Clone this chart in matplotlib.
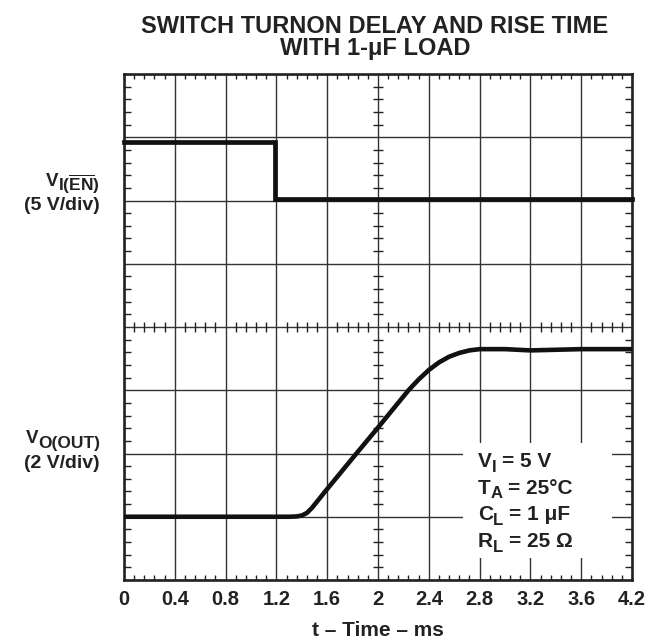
import numpy as np
import matplotlib
matplotlib.use('Agg')
import matplotlib.pyplot as plt
from matplotlib.patches import Rectangle

plt.rcParams['font.family'] = ['Liberation Sans', 'DejaVu Sans']
plt.rcParams['font.weight'] = 'bold'
plt.rcParams['mathtext.fontset'] = 'custom'
for k in ['rm', 'it', 'bf', 'sf']:
    plt.rcParams['mathtext.' + k] = 'Liberation Sans:bold'

# ---- data (time in ms, amplitude in screen divisions) ----
time_ticks = [0, 0.4, 0.8, 1.2, 1.6, 2.0, 2.4, 2.8, 3.2, 3.6, 4.0]
time_tick_labels = ['0', '0.4', '0.8', '1.2', '1.6', '2', '2.4', '2.8', '3.2', '3.6', '4.2']

en_t = [0.0, 1.19, 1.19, 4.0]
en_v = [6.92, 6.92, 6.02, 6.02]

out_t = [0.0, 1.30, 1.36, 1.40, 1.44, 1.48, 1.58, 1.83, 2.00, 2.24, 2.32, 2.40,
         2.48, 2.56, 2.64, 2.72, 2.80, 3.00, 3.20, 3.60, 4.00]
out_v = [1.00, 1.00, 1.005, 1.02, 1.06, 1.14, 1.39, 2.00, 2.41, 3.00, 3.17, 3.32,
         3.44, 3.53, 3.59, 3.63, 3.65, 3.65, 3.63, 3.65, 3.65]

cond_symbols = ['V', 'T', 'C', 'R']
cond_subs = ['I', 'A', 'L', 'L']
cond_values = ['= 5 V', '= 25°C', '= 1 μF', '= 25 Ω']

W, H = 653, 641
ink = '#222222'

# ---- figure ----
fig = plt.figure(figsize=(W/100, H/100), dpi=100)
ax = fig.add_axes([124/W, 1-580/H, 508/W, 506/H])
ax.set_xlim(0, 4)
ax.set_ylim(0, 8)
ax.set_axisbelow(True)

ax.set_xticks(time_ticks)
ax.set_xticklabels(time_tick_labels)
ax.set_yticks(np.arange(0, 9))
ax.set_yticklabels([])
xminor = np.round(np.arange(0, 4.0001, 0.08), 4)
yminor = np.round(np.arange(0, 8.0001, 0.2), 4)
ax.set_xticks(xminor, minor=True)
ax.set_yticks(yminor, minor=True)

ax.tick_params(which='major', length=0, pad=7, labelsize=14.5, colors=ink)
ax.tick_params(which='minor', direction='in', top=True, right=True, left=True,
               bottom=True, width=1.0, color=ink)
ax.tick_params(axis='x', which='minor', length=3.5)
ax.tick_params(axis='y', which='minor', length=5)
ax.grid(which='major', color='#333333', lw=1.0)
for s in ax.spines.values():
    s.set_linewidth(1.9)
    s.set_color(ink)

# centre-cross graticule ticks
xc = np.array([v for i, v in enumerate(xminor) if i % 5 != 0])
yc = np.array([v for i, v in enumerate(yminor) if i % 5 != 0])
ax.plot(xc, np.full_like(xc, 4.0), ls='none', marker='|', ms=7.5, mew=1.0, color=ink, zorder=1)
ax.plot(np.full_like(yc, 2.0), yc, ls='none', marker='_', ms=7.5, mew=1.0, color=ink, zorder=1)

# traces
ax.plot(en_t, en_v, color='#111111', lw=3.4, solid_joinstyle='miter', zorder=3, clip_on=False)
ax.plot(out_t, out_v, color='#111111', lw=3.3, solid_joinstyle='round', zorder=3)

# conditions box
ax.add_patch(Rectangle((0.667, 0.0435), 0.294, 0.2275, transform=ax.transAxes,
                       facecolor='white', edgecolor='none', zorder=2.6))

renderer = fig.canvas.get_renderer()


def runs_text(x, y, runs, ha='left'):
    """Draw text pieces side by side; x, y in pixels from the top-left.
    runs: (string, fontsize, drop_px, gap_px_before)"""
    arts, widths = [], []
    for s, size, dy, gap in runs:
        t = fig.text(0, 0, s, fontsize=size, fontweight='bold', ha='left',
                     va='baseline', color=ink, zorder=5)
        arts.append(t)
        widths.append(t.get_window_extent(renderer).width)
    total = sum(widths) + sum(r[3] for r in runs)
    cx = x if ha == 'left' else x - total
    for (s, size, dy, gap), t, w in zip(runs, arts, widths):
        cx += gap
        t.set_position((cx / W, 1 - (y + dy) / H))
        cx += w


for i, (sym, sub, val) in enumerate(zip(cond_symbols, cond_subs, cond_values)):
    runs_text(478, 466.7 + i*26.8, [(sym, 15, 0, 0), (sub, 12, 5, 0), (val, 15, 0, 5.5)])

# titles and labels
fig.text(375/W, 1-33/H, 'SWITCH TURNON DELAY AND RISE TIME', ha='center',
         va='baseline', fontsize=17, fontweight='bold', color=ink)
fig.text(375/W, 1-55/H, 'WITH 1-μF LOAD', ha='center',
         va='baseline', fontsize=17, fontweight='bold', color=ink)
fig.text(378/W, 1-636/H, 't – Time – ms', ha='center', va='baseline',
         fontsize=15, fontweight='bold', color=ink)

runs_text(100, 186, [('V', 13.5, 0, 0), (r'$I(\overline{EN})$', 12.5, 5, 0)], ha='right')
runs_text(100, 210, [('(5 V/div)', 14, 0, 0)], ha='right')
runs_text(100, 443, [('V', 13.5, 0, 0), ('O(OUT)', 12.5, 5, 0)], ha='right')
runs_text(100, 468, [('(2 V/div)', 14, 0, 0)], ha='right')

fig.savefig('out.png', dpi=100)
